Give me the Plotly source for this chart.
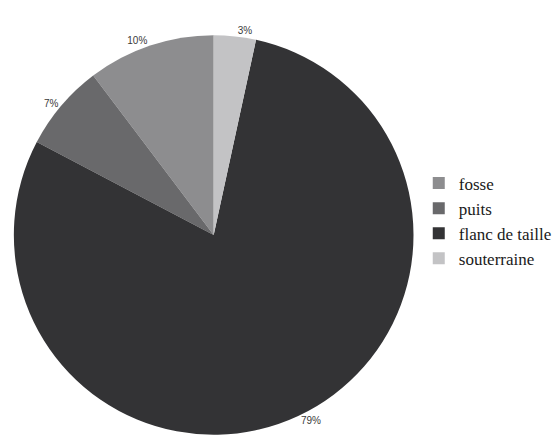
import plotly.graph_objects as go

labels = ["fosse", "puits", "flanc de taille", "souterraine"]
values = [10.3, 7.0, 79.3, 3.4]
colors = ["#8d8d8f", "#69696b", "#333335", "#c3c3c5"]

W, H = 557, 437
cx, r = 216, 202

first_angle = values[0] / sum(values) * 360

fig = go.Figure(go.Pie(
    labels=labels, values=values, sort=False, direction="counterclockwise",
    rotation=-first_angle,
    marker=dict(colors=colors, line=dict(width=0)),
    textinfo="percent", textposition="outside",
    texttemplate="%{percent:.0%}",
    textfont=dict(family="Liberation Sans, Arial", size=10, color="#3a3a3a"),
    automargin=False,
    domain=dict(x=[(cx - r) / W, (cx + r) / W], y=[0, 2 * r / H]),
    showlegend=True,
))
fig.update_layout(
    width=W, height=H, margin=dict(l=0, r=0, t=0, b=0),
    paper_bgcolor="white", plot_bgcolor="white",
    legend=dict(x=0.76, xanchor="left", y=1 - 221 / H, yanchor="middle",
                font=dict(family="Liberation Serif, DejaVu Serif", size=17, color="#1a1a1a"),
                itemsizing="constant", tracegroupgap=0),
)
fig.write_html("out.html")
